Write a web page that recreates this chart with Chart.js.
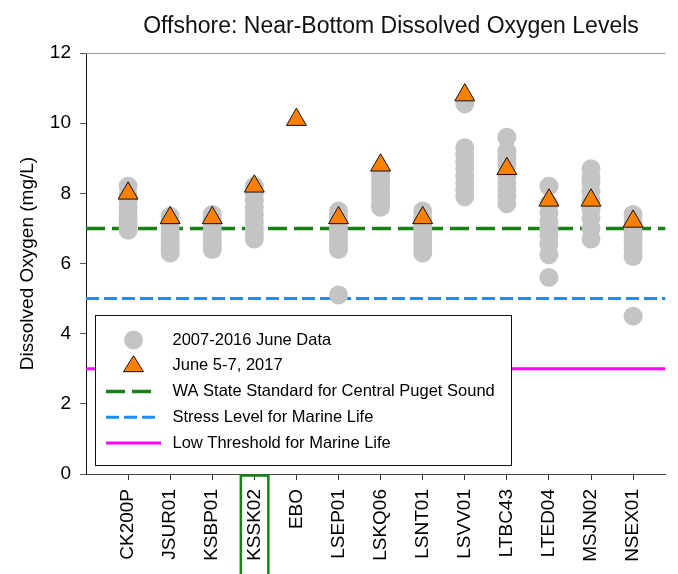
<!DOCTYPE html>
<html>
<head>
<meta charset="utf-8">
<script src="https://cdn.jsdelivr.net/npm/chart.js@4.4.1/dist/chart.umd.min.js"></script>
<style>
  html, body { margin: 0; padding: 0; background: #ffffff; }
  #wrap { width: 678px; height: 574px; position: relative; }
</style>
</head>
<body>
<div id="wrap"><canvas id="c" width="678" height="574"></canvas></div>
<script>
// ---- data ----
const stations = ['CK200P','JSUR01','KSBP01','KSSK02','EBO','LSEP01','LSKQ06','LSNT01','LSVV01','LTBC43','LTED04','MSJN02','NSEX01'];

const june2007to2016 = {
  CK200P: [8.2, 7.95, 7.8, 7.6, 7.45, 7.3, 7.2, 7.1, 6.95],
  JSUR01: [7.35, 7.2, 7.05, 6.9, 6.75, 6.6, 6.5, 6.4, 6.3],
  KSBP01: [7.4, 7.25, 7.1, 6.95, 6.8, 6.7, 6.6, 6.5, 6.4],
  KSSK02: [8.2, 8.0, 7.8, 7.6, 7.4, 7.2, 7.0, 6.85, 6.7],
  EBO:    [],
  LSEP01: [7.5, 7.35, 7.2, 7.0, 6.85, 6.7, 6.55, 6.4, 5.1],
  LSKQ06: [8.6, 8.45, 8.3, 8.15, 8.0, 7.85, 7.7, 7.6],
  LSNT01: [7.5, 7.3, 7.15, 7.0, 6.85, 6.7, 6.55, 6.4, 6.3],
  LSVV01: [10.55, 9.3, 9.1, 8.9, 8.7, 8.5, 8.3, 8.1, 7.9],
  LTBC43: [9.6, 9.2, 9.0, 8.8, 8.5, 8.3, 8.1, 7.9, 7.7],
  LTED04: [8.2, 7.7, 7.45, 7.2, 7.0, 6.8, 6.55, 6.25, 5.6],
  MSJN02: [8.7, 8.45, 8.3, 8.05, 7.8, 7.55, 7.3, 7.0, 6.7],
  NSEX01: [7.4, 7.2, 7.05, 6.9, 6.75, 6.6, 6.4, 6.2, 4.5]
};

const june2017 = [8.0, 7.3, 7.3, 8.2, 10.1, 7.3, 8.8, 7.3, 10.8, 8.7, 7.8, 7.8, 7.2];

const waStandard = 7;
const stressLevel = 5;
const lowThreshold = 3;

const yTicks = [0, 2, 4, 6, 8, 10, 12];
const highlighted = 'KSSK02';

const legendLabels = [
  '2007-2016 June Data',
  'June 5-7, 2017',
  'WA State Standard for Central Puget Sound',
  'Stress Level for Marine Life',
  'Low Threshold for Marine Life'
];

// ---- build ----
const X_MAX = 13.77;
const FONT = "'Liberation Sans', Arial, Helvetica, sans-serif";

const greyPts = [];
stations.forEach((s, i) => {
  june2007to2016[s].forEach(v => greyPts.push({ x: i + 1, y: v }));
});
const triPts = june2017.map((v, i) => ({ x: i + 1, y: v }));
const hline = v => [{ x: 0, y: v }, { x: X_MAX, y: v }];

const GREEN = '#168216';
const BLUE = '#1e8cf5';
const MAGENTA = '#ff00ff';
const GREY = 'rgb(196,196,196)';
const ORANGE = '#ff8000';

const extras = {
  id: 'extras',
  beforeDatasetsDraw(chart) {
    const { ctx, chartArea } = chart;
    ctx.save();
    ctx.strokeStyle = '#9a9a9a';
    ctx.lineWidth = 1;
    ctx.beginPath();
    ctx.moveTo(chartArea.left, chartArea.top + 0.5);
    ctx.lineTo(chartArea.right, chartArea.top + 0.5);
    ctx.stroke();
    ctx.restore();
  },
  afterDraw(chart) {
    const { ctx, chartArea } = chart;
    const xs = chart.scales.x;
    ctx.save();
    // title
    ctx.fillStyle = '#111';
    ctx.font = '23px ' + FONT;
    ctx.textAlign = 'center';
    ctx.textBaseline = 'middle';
    ctx.fillText('Offshore: Near-Bottom Dissolved Oxygen Levels', 391, 27);

    // highlight box
    const hx = xs.getPixelForValue(stations.indexOf(highlighted) + 1);
    ctx.strokeStyle = GREEN;
    ctx.lineWidth = 2.5;
    ctx.strokeRect(hx - 13.5, chartArea.bottom + 1.5, 27.5, 120);

    // legend
    const L = 95, T = 315, W = 416, H = 150;
    ctx.fillStyle = '#fff';
    ctx.fillRect(L, T, W, H);
    ctx.strokeStyle = '#111';
    ctx.lineWidth = 1;
    ctx.strokeRect(L + 0.5, T + 0.5, W, H);
    const rows = [340, 365.7, 391.5, 417.3, 443];
    const sx = 133.5;
    // circle
    ctx.fillStyle = GREY;
    ctx.beginPath(); ctx.arc(sx, rows[0], 9.5, 0, Math.PI * 2); ctx.fill();
    // triangle
    ctx.fillStyle = ORANGE;
    ctx.strokeStyle = '#111';
    ctx.beginPath();
    ctx.moveTo(sx, rows[1] - 10);
    ctx.lineTo(sx + 10, rows[1] + 6);
    ctx.lineTo(sx - 10, rows[1] + 6);
    ctx.closePath(); ctx.fill(); ctx.stroke();
    // lines
    const seg = (y, x2, color, dash, w) => {
      ctx.strokeStyle = color; ctx.lineWidth = w; ctx.setLineDash(dash);
      ctx.beginPath(); ctx.moveTo(106, y); ctx.lineTo(x2, y); ctx.stroke();
    };
    seg(rows[2], 152, GREEN, [19, 7], 3.5);
    seg(rows[3], 156, BLUE, [13, 5], 3);
    seg(rows[4], 161, MAGENTA, [], 3);
    ctx.setLineDash([]);
    ctx.fillStyle = '#000';
    ctx.font = '16.5px ' + FONT;
    ctx.textAlign = 'left';
    ctx.textBaseline = 'middle';
    legendLabels.forEach((t, i) => ctx.fillText(t, 172.5, rows[i]));
    ctx.restore();
  }
};

new Chart(document.getElementById('c'), {
  type: 'scatter',
  data: {
    datasets: [
      { type: 'line', label: legendLabels[2], data: hline(waStandard), borderColor: GREEN, borderWidth: 3.5, borderDash: [19, 7], pointRadius: 0, order: 5 },
      { type: 'line', label: legendLabels[3], data: hline(stressLevel), borderColor: BLUE, borderWidth: 3, borderDash: [13, 5], pointRadius: 0, order: 4 },
      { type: 'line', label: legendLabels[4], data: hline(lowThreshold), borderColor: MAGENTA, borderWidth: 3, pointRadius: 0, order: 3 },
      { label: legendLabels[0], data: greyPts, pointStyle: 'circle', pointRadius: 9.5, pointBackgroundColor: GREY, pointBorderWidth: 0, borderWidth: 0, order: 2 },
      { label: legendLabels[1], data: triPts, pointStyle: 'triangle', pointRadius: 11.5, pointBackgroundColor: ORANGE, pointBorderColor: '#111', pointBorderWidth: 1, order: 1 }
    ]
  },
  options: {
    responsive: false,
    devicePixelRatio: 1,
    animation: false,
    layout: { padding: { top: 53, left: 0, right: 0, bottom: 0 } },
    plugins: { legend: { display: false }, tooltip: { enabled: false }, title: { display: false } },
    scales: {
      x: {
        type: 'linear', min: 0, max: X_MAX,
        afterBuildTicks: s => { s.ticks = stations.map((_, i) => ({ value: i + 1 })); },
        afterFit: s => { s.height = 100; },
        ticks: {
          autoSkip: false, maxRotation: 90, minRotation: 90, padding: 9,
          color: '#000', font: { family: FONT, size: 19 },
          callback: v => stations[v - 1] || ''
        },
        grid: { drawOnChartArea: false, drawTicks: true, tickLength: 6, color: '#333' },
        border: { display: true, color: '#444', width: 1 }
      },
      y: {
        type: 'linear', min: 0, max: 12,
        afterBuildTicks: s => { s.ticks = yTicks.map(v => ({ value: v })); },
        afterFit: s => { s.width = 86; },
        ticks: { padding: 9, color: '#000', font: { family: FONT, size: 19 } },
        grid: { drawOnChartArea: false, drawTicks: true, tickLength: 6, color: '#555' },
        border: { display: true, color: '#111', width: 1 },
        title: { display: true, text: 'Dissolved Oxygen (mg/L)', color: '#000', font: { family: FONT, size: 19 }, padding: { top: 16, bottom: 0 } }
      }
    }
  },
  plugins: [extras]
});
</script>
</body>
</html>
